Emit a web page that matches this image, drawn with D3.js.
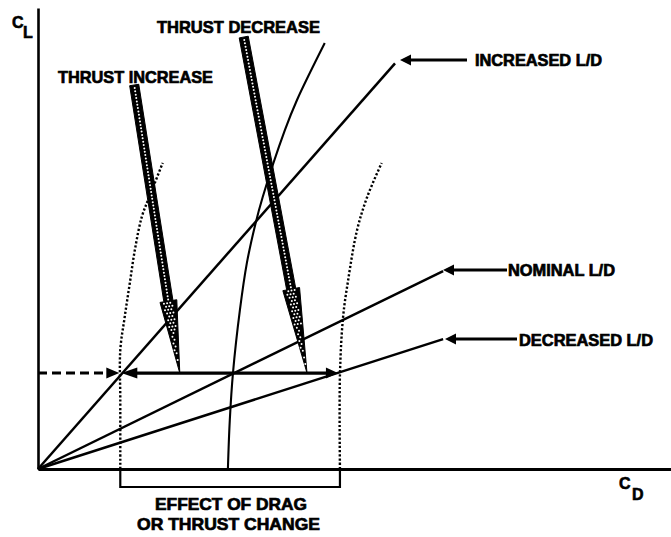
<!DOCTYPE html>
<html><head><meta charset="utf-8">
<script src="https://cdn.jsdelivr.net/npm/d3@7"></script>
<style>body{margin:0;background:#fff}svg{display:block}</style>
</head><body><svg id="c" width="671" height="537"></svg>
<script>
// ---- data (arbitrary CD / CL units of the diagram) ----
const ldNames  = ["INCREASED L/D", "NOMINAL L/D", "DECREASED L/D"];
const ldRatios = [1.56, 0.671, 0.44];
const ldEndCD  = [5.64, 6.40, 6.40];
const operatingCL = 2.08;
const effectRange = [1.30, 4.77];
const nominalCD = [3.00, 3.03, 3.08, 3.19, 3.30, 3.43, 3.55, 3.90, 4.09, 4.53];
const nominalCL = [0, 1.06, 2.08, 3.45, 4.47, 5.29, 5.90, 7.35, 8.00, 9.24];
const incCD = [1.30, 1.30, 1.30, 1.37, 1.45, 1.53, 1.64, 1.77, 1.97];
const incCL = [0, 1.50, 2.58, 3.30, 4.03, 4.75, 5.47, 5.94, 6.64];
const decCD = [4.77, 4.77, 4.82, 4.90, 5.04, 5.20, 5.43];
const decCL = [0, 2.04, 3.30, 4.10, 5.18, 5.90, 6.64];
const thrustNames  = ["THRUST INCREASE", "THRUST DECREASE"];
const thrustFromCD = [1.52, 3.25];
const thrustFromCL = [8.33, 9.37];
const thrustToCD   = [2.24, 4.25];
const bracketText  = ["EFFECT OF DRAG", "OR THRUST CHANGE"];

// ---- layout ----
const svg = d3.select("#c");
const x = d3.scaleLinear().domain([0, 10]).range([38, 671]);
const y = d3.scaleLinear().domain([0, 10]).range([469, 8]);
const FONT = "'Liberation Sans', Arial, sans-serif";

function head(g, tx, ty, dx, dy, len, hw) {
  const L = Math.hypot(dx, dy), ux = dx / L, uy = dy / L, nx = -uy, ny = ux;
  const bx = tx - ux * len, by = ty - uy * len;
  g.append("path").attr("d", `M${tx},${ty}L${bx + nx * hw},${by + ny * hw}L${bx - nx * hw},${by - ny * hw}Z`)
    .attr("fill", "#000");
}

// axes
const gx = svg.append("g").attr("transform", `translate(0,${y(0)})`)
  .call(d3.axisBottom(x).tickValues([]).tickSizeOuter(0));
gx.select(".domain").attr("stroke-width", 3);
const gy = svg.append("g").attr("transform", `translate(${x(0)},0)`)
  .call(d3.axisLeft(y).tickValues([]).tickSizeOuter(0));
gy.select(".domain").attr("stroke-width", 2.6);

// L/D lines
ldRatios.forEach((r, i) => {
  svg.append("line").attr("x1", x(0)).attr("y1", y(0))
    .attr("x2", x(ldEndCD[i])).attr("y2", y(ldEndCD[i] * r))
    .attr("stroke", "#000").attr("stroke-width", 2.5);
});

const line = d3.line().curve(d3.curveCatmullRom.alpha(0.5));
// nominal curve
svg.append("path").attr("d", line(nominalCD.map((d, i) => [x(d), y(nominalCL[i])])))
  .attr("fill", "none").attr("stroke", "#000").attr("stroke-width", 2.1);
// dotted curves
[[incCD, incCL], [decCD, decCL]].forEach(([cd, cl]) => {
  svg.append("path").attr("d", line(cd.map((d, i) => [x(d), y(cl[i])])))
    .attr("fill", "none").attr("stroke", "#000").attr("stroke-width", 2.4)
    .attr("stroke-dasharray", "2.2,2");
});

// operating line
const oy = y(operatingCL);
svg.append("line").attr("x1", x(0)).attr("y1", oy).attr("x2", x(effectRange[0]) - 10).attr("y2", oy)
  .attr("stroke", "#000").attr("stroke-width", 3).attr("stroke-dasharray", "9,5");
head(svg, x(effectRange[0]) - 1, oy, 1, 0, 13, 5.5);
svg.append("line").attr("x1", x(effectRange[0]) + 10).attr("y1", oy).attr("x2", x(effectRange[1]) - 8).attr("y2", oy)
  .attr("stroke", "#000").attr("stroke-width", 3.2);
head(svg, x(effectRange[0]) + 1, oy, -1, 0, 16, 5.5);
head(svg, x(effectRange[1]) - 2, oy, 1, 0, 12, 5.5);

// thick thrust arrows (black outline with white stipple)
thrustNames.forEach((n, i) => {
  const x0 = x(thrustFromCD[i]), y0 = y(thrustFromCL[i]);
  const x1 = x(thrustToCD[i]), y1 = y(operatingCL);
  const L = Math.hypot(x1 - x0, y1 - y0), ux = (x1 - x0) / L, uy = (y1 - y0) / L;
  const nx = -uy, ny = ux, h = 0.25 * L, w = 4.6, hw = 8.5;
  const bx = x1 - ux * h, by = y1 - uy * h;
  const pts = [[x0 + nx * w, y0 + ny * w], [bx + nx * w, by + ny * w], [bx + nx * hw, by + ny * hw], [x1, y1],
               [bx - nx * hw, by - ny * hw], [bx - nx * w, by - ny * w], [x0 - nx * w, y0 - ny * w]];
  const g = svg.append("g");
  g.append("path").attr("d", "M" + pts.map(p => p.join(",")).join("L") + "Z")
    .attr("fill", "#000").attr("stroke", "#000").attr("stroke-width", 1).attr("stroke-linejoin", "miter");
  const step = 3.4, dots = [];
  for (let s = 3; s < L - 8; s += step) {
    const inHead = s > L - h;
    const half = inHead ? (hw - 3) * (L - s) / h : 0;
    for (let o = -Math.floor(half / 3.2) * 3.2; o <= half + 0.01; o += 3.2) {
      const off = inHead ? o + ((Math.round(s / step) % 2) ? 1.6 : 0) : 0;
      if (Math.abs(off) > Math.max(half, 0.1) + 0.01 && inHead) continue;
      dots.push([x0 + ux * s + nx * off, y0 + uy * s + ny * off]);
    }
  }
  g.selectAll("circle").data(dots).join("circle")
    .attr("cx", d => d[0]).attr("cy", d => d[1]).attr("r", 1).attr("fill", "#fff");
});

// text helper
function label(t, lx, by, w, fs) {
  svg.append("text").attr("x", lx).attr("y", by).text(t)
    .attr("font-family", FONT).attr("font-weight", "bold").attr("font-size", fs)
    .attr("textLength", w).attr("lengthAdjust", "spacingAndGlyphs").attr("fill", "#000")
    .attr("stroke", "#000").attr("stroke-width", 0.7);
}

// thrust labels
label(thrustNames[0], 58, 83, 155, 17);
label(thrustNames[1], 157, 33, 163, 17);

// L/D labels with arrows
const ldLab = [
  {tip: [400, 60], tail: 467, tx: 475, by: 66, w: 127},
  {tip: [443, 270], tail: 507, tx: 508, by: 276, w: 107},
  {tip: [445, 339], tail: 517, tx: 519, by: 346, w: 134}
];
ldLab.forEach((d, i) => {
  svg.append("line").attr("x1", d.tip[0] + 8).attr("y1", d.tip[1]).attr("x2", d.tail).attr("y2", d.tip[1])
    .attr("stroke", "#000").attr("stroke-width", 2.8);
  head(svg, d.tip[0], d.tip[1], -1, 0, 11, 5.5);
  label(ldNames[i], d.tx, d.by, d.w, 16);
});

// bracket
const b0 = x(effectRange[0]), b1 = x(effectRange[1]);
svg.append("path").attr("d", `M${b0},${y(0)}V${y(0) + 18}H${b1}V${y(0)}`)
  .attr("fill", "none").attr("stroke", "#000").attr("stroke-width", 2.2);
label(bracketText[0], 155, 510, 152, 17);
label(bracketText[1], 137, 530, 183, 17);

// axis titles
function axTitle(main, sub, mx, my, sx, sy) {
  [[main, mx, my], [sub, sx, sy]].forEach(([t, tx, ty]) => {
    svg.append("text").attr("x", tx).attr("y", ty).text(t)
      .attr("font-family", FONT).attr("font-weight", "bold").attr("font-size", 16)
      .attr("stroke", "#000").attr("stroke-width", 0.6);
  });
}
axTitle("C", "L", 12, 28, 23, 38);
axTitle("C", "D", 619, 489, 632, 500);
</script></body></html>
